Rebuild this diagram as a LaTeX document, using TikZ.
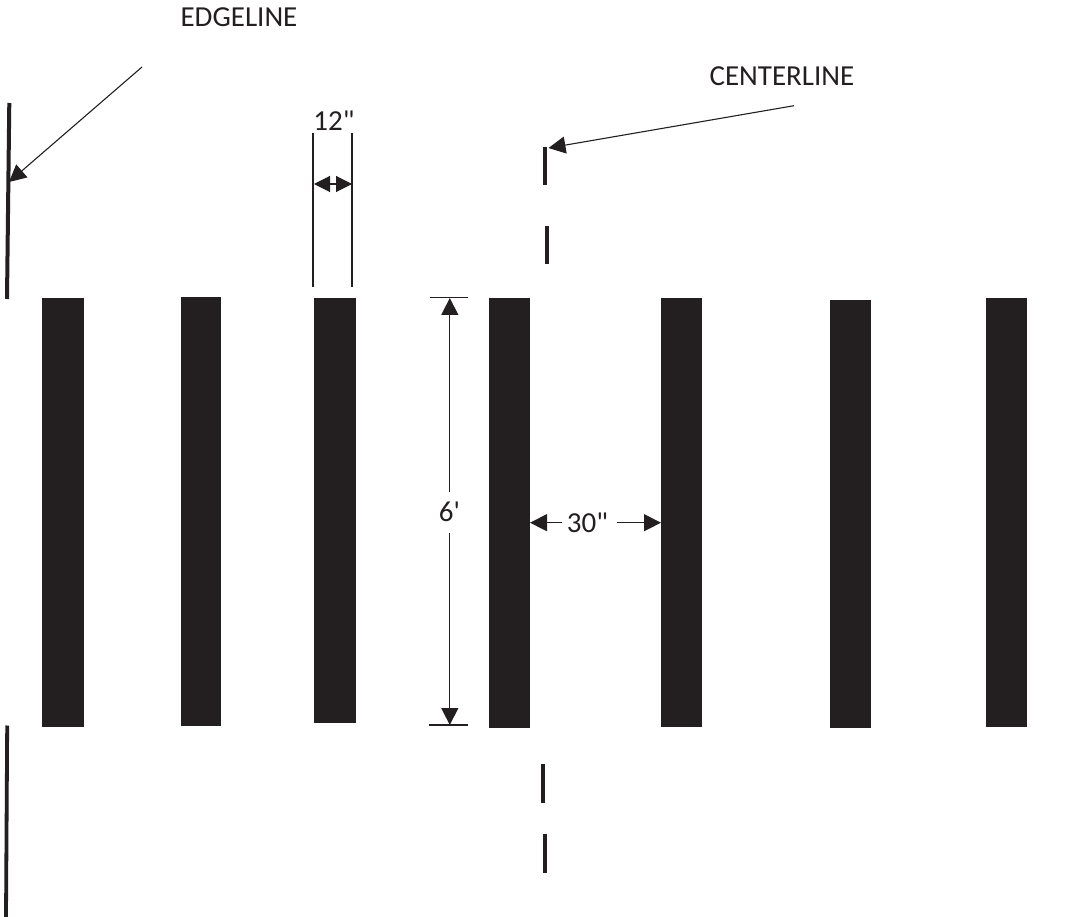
\documentclass[tikz,border=0pt]{standalone}
\usepackage{fontspec}
\newfontfamily\labfont{Carlito}
\usetikzlibrary{arrows.meta}
\definecolor{ink}{HTML}{231F20}
\tikzset{
  barbox/.style={fill=ink,draw=none},
  paint/.style={draw=ink,line width=3.8pt},
  thin line/.style={draw=ink,line width=1.1pt},
  tipped/.style={draw=ink,line width=1.1pt,-{Triangle[length=17pt,width=17pt]}},
  label text/.style={text=ink,font=\labfont\fontsize{29}{34}\selectfont,inner sep=0pt},
}
\begin{document}
\begin{tikzpicture}[x=1pt,y=-1pt]
\useasboundingbox (0,0) rectangle (1077,917);
% bars
\fill[barbox] (42,298) rectangle (83.5,726.5);
\fill[barbox] (181,297) rectangle (221,725.5);
\fill[barbox] (314,298) rectangle (355.5,722.7);
\fill[barbox] (489,298) rectangle (530,728.3);
\fill[barbox] (661,298) rectangle (702,726.5);
\fill[barbox] (830,300) rectangle (871,728.3);
\fill[barbox] (986,298) rectangle (1027,726.5);
% edge lines
\draw[paint,line width=4pt] (9.3,103) -- (7,299);
\draw[paint] (7.2,725.5) -- (6,917);
% centre dashes
\draw[paint] (545,147) -- (545,185);
\draw[paint] (547.2,226) -- (547.2,264);
\draw[paint] (542.7,764) -- (542.7,802.7);
\draw[paint] (544.8,834) -- (544.8,872.5);
% labels
\node[label text] (edge) at (239,17) {EDGELINE};
\node[label text] (center) at (782,76) {CENTERLINE};
\node[label text] (twelve) at (334,120.5) {12"};
\node[label text] (six) at (449.5,512) {6'};
\node[label text] (thirty) at (587.5,523) {30"};
% leaders
\coordinate (edgeS) at (142,67);
\coordinate (edgeT) at (9,182);
\draw[tipped] (edgeS) -- (edgeT);
\coordinate (centerS) at (794,105.7);
\coordinate (centerT) at (548.5,148);
\draw[tipped] (centerS) -- (centerT);
% 12 inch dimension
\coordinate (ax) at (313,133.5);
\coordinate (ay) at (313,287);
\coordinate (bx) at (352,133.5);
\coordinate (by) at (352,287);
\draw[thin line] (ax) -- (ay);
\draw[thin line] (bx) -- (by);
\coordinate (dl) at (314,184);
\coordinate (dr) at (352,184);
\draw[draw=ink,line width=1.1pt,{Triangle[length=16pt,width=16pt]}-{Triangle[length=16pt,width=16pt]}] (dl) -- (dr);
% 6 ft dimension
\coordinate (t1) at (429.5,297.5);
\coordinate (t2) at (468,297.5);
\coordinate (b1) at (429,725);
\coordinate (b2) at (468,725);
\draw[thin line] (t1) -- (t2);
\draw[thin line] (b1) -- (b2);
\coordinate (vt) at (449.8,298);
\coordinate (vb) at (449.8,725);
\coordinate (vtS) at (449.8,492);
\coordinate (vbS) at (449.8,533);
\draw[tipped] (vtS) -- (vt);
\draw[tipped] (vbS) -- (vb);
% 30 inch dimension
\coordinate (hl) at (530,522.7);
\coordinate (hr) at (661,522.7);
\coordinate (hlS) at (562,522.7);
\coordinate (hrS) at (617,522.7);
\draw[tipped] (hlS) -- (hl);
\draw[tipped] (hrS) -- (hr);
\end{tikzpicture}
\end{document}
